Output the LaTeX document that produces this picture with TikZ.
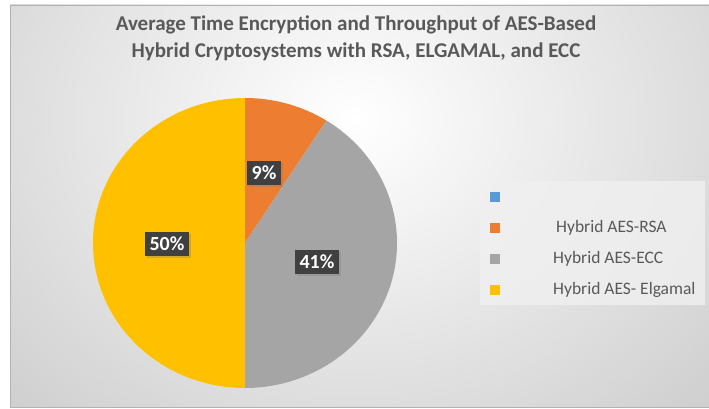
\documentclass[tikz,border=0pt]{standalone}
\usepackage{fontspec}
\setmainfont{Carlito}
\usetikzlibrary{positioning, calc, shadows}

\definecolor{slicersa}{HTML}{ED7D31}
\definecolor{sliceecc}{HTML}{A5A5A5}
\definecolor{sliceelg}{HTML}{FFC000}
\definecolor{sliceblue}{HTML}{5B9BD5}
\definecolor{txtgray}{HTML}{595959}
\definecolor{boxdark}{HTML}{404040}

\tikzset{
  pctlabel/.style = {fill=boxdark, text=white, font=\fontsize{20}{22}\selectfont\bfseries,
                     inner xsep=5pt, inner ysep=5pt, drop shadow={opacity=0.35, shadow xshift=2pt, shadow yshift=-2pt}},
  legendmark/.style = {minimum size=10pt, inner sep=0pt},
  legendtext/.style = {anchor=west, text=txtgray, font=\fontsize{17.5}{19}\selectfont, inner sep=0pt}
}

\begin{document}
\begin{tikzpicture}[x=1pt, y=1pt]
  \useasboundingbox (0,0) rectangle (709,409);
  % background of the chart area
  \fill[white] (0,0) rectangle (709,409);
  \begin{scope}
    \clip (10,2) rectangle (709,404);
    \fill[black!23] (10,2) rectangle (709,404);
    \shade[inner color=white, outer color=black!23] (355,290) ellipse [x radius=600, y radius=500];
  \end{scope}
  \draw[black!30, line width=0.6pt] (10,2) rectangle (709,404);

  % title
  \node[text=txtgray, font=\fontsize{21}{27}\selectfont\bfseries, align=center] (title) at (356,371)
    {Average Time Encryption and Throughput of AES-Based\\Hybrid Cryptosystems with RSA, ELGAMAL, and ECC};

  % pie
  \coordinate (c) at (245,166);
  \fill[slicersa] (c) -- ++(90:152 and 145) arc[start angle=90, end angle=57.6, x radius=152, y radius=145] -- cycle;
  \fill[sliceecc] (c) -- ++(57.6:152 and 145) arc[start angle=57.6, end angle=-90, x radius=152, y radius=145] -- cycle;
  \fill[sliceelg] (c) -- ++(90:152 and 145) arc[start angle=90, end angle=270, x radius=152, y radius=145] -- cycle;

  \node[pctlabel] (rsa) at (264,236) {9\%};
  \node[pctlabel] (ecc) at (317,147) {41\%};
  \node[pctlabel] (elg) at (167,165) {50\%};

  % legend
  \node[fill=black!6, fill opacity=0.8, minimum width=225pt, minimum height=124pt, inner sep=0pt] (legend) at (592.5,166) {};
  \node[legendmark, fill=sliceblue] (m1) at (495,212) {};
  \node[legendmark, fill=slicersa] (m2) at (495,181) {};
  \node[legendmark, fill=sliceecc] (m3) at (495,150) {};
  \node[legendmark, fill=sliceelg] (m4) at (495,119) {};
  \node[legendtext] (t2) at (556,181) {Hybrid AES-RSA};
  \node[legendtext] (t3) at (553,150) {Hybrid AES-ECC};
  \node[legendtext] (t4) at (553,119) {Hybrid AES- Elgamal};
\end{tikzpicture}
\end{document}
